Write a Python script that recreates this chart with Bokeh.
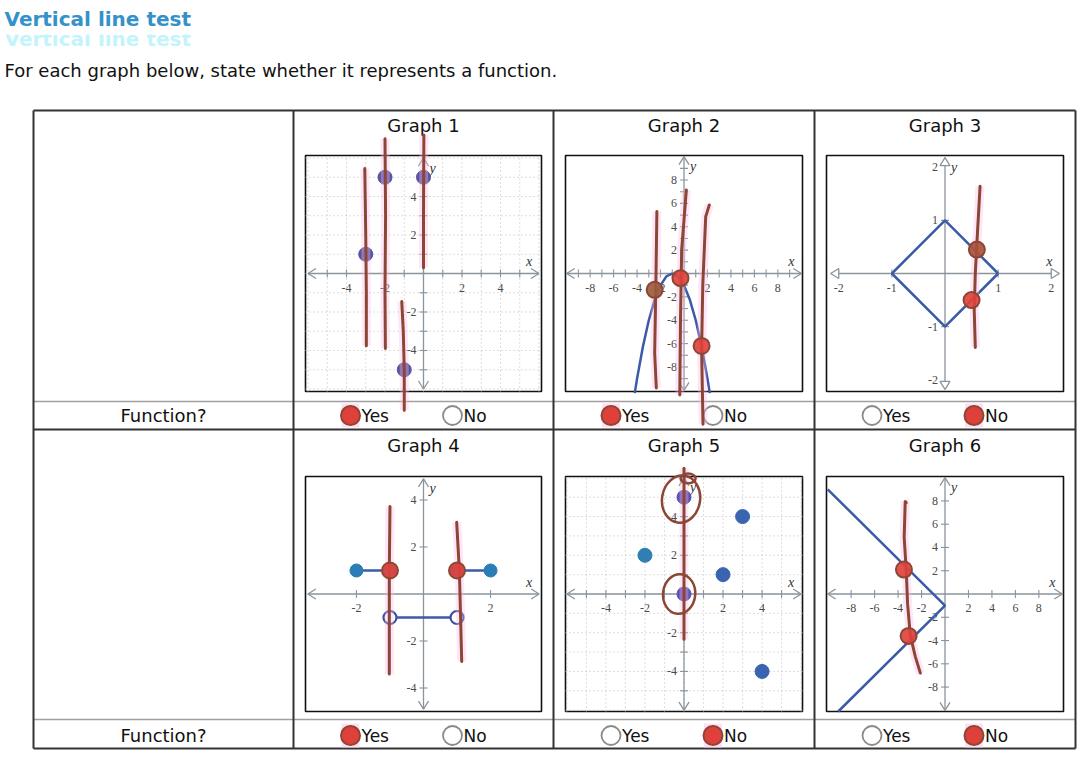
import numpy as np
from bokeh.plotting import figure
from bokeh.models import Range1d
from bokeh.core.properties import value
from bokeh.embed import file_html
from bokeh.resources import INLINE

# ---------------- texts ----------------
title = "Vertical line test"
subtitle = "For each graph below, state whether it represents a function."
graph_names = ["Graph 1", "Graph 2", "Graph 3", "Graph 4", "Graph 5", "Graph 6"]
row_label = "Function?"
choices = ["Yes", "No"]
answers = ["Yes", "Yes", "No", "Yes", "No", "No"]

# ---------------- graph data ----------------
# Graph 1: isolated points
g1_x = [-3, -2, 0, -1]
g1_y = [1, 5, 5, -5]
# Graph 2: downward parabola
g2_x = [-4.2, -4, -3.5, -3, -2.5, -2, -1.5, -1, -0.5, 0, 0.5, 1, 1.5, 2, 2.2]
g2_y = [-10.24, -9, -6.25, -4, -2.25, -1, -0.25, 0, -0.25, -1, -2.25, -4, -6.25, -9, -10.24]
# Graph 3: diamond
g3_x = [1, 0, -1, 0, 1]
g3_y = [0, 1, 0, -1, 0]
# Graph 4: step pieces
g4_seg_x = [[-2, -1], [-1, 1], [1, 2]]
g4_seg_y = [[1, 1], [-1, -1], [1, 1]]
g4_closed_x = [-2, 2, -1, 1]
g4_closed_y = [1, 1, 1, 1]
g4_open_x = [-1, 1]
g4_open_y = [-1, -1]
# Graph 5: points
g5_x = [0, 3, -2, 2, 0, 4]
g5_y = [5, 4, 2, 1, 0, -4]
g5_col = ["#5b4fae", "#3a64b0", "#2f7fb3", "#3a64b0", "#5b4fae", "#3a64b0"]
# Graph 6: sideways V
g6_x = [-10, 0, -9.1]
g6_y = [9, -1, -10.1]

# handwriting strokes (graph coordinates)
hw_strokes = {
    0: [([-3.05, -3.0, -2.97, -2.97], [5.45, 2, -1, -3.75]),
        ([-2.0, -1.97, -2.0, -1.98], [7.0, 3, -1, -3.9]),
        ([0.02, 0.0, 0.0], [7.2, 3, 0.3]),
        ([-1.13, -1.05, -1.0, -1.0], [-1.45, -3, -5, -7.1])],
    1: [([-2.31, -2.4, -2.5, -2.36], [5.3, -1, -6.8, -9.8]),
        ([0.2, -0.2, -0.3, -0.36], [7.15, 2, -4, -10.4]),
        ([2.16, 1.85, 1.6, 1.5, 1.62], [5.87, 4.87, -1, -6.5, -12.9])],
    2: [([0.66, 0.61, 0.57, 0.55, 0.57], [1.64, 0.75, 0, -0.69, -1.39])],
    3: [([-1.0, -1.02, -1.02], [3.72, 0.99, -3.4]),
        ([0.99, 1.07, 1.14], [3.05, 1, -2.87])],
    4: [([0.0, 0.0, 0.0], [6.5, 2, -2.34])],
    5: [([-3.3, -3.39, -3.48, -3.3, -3.19, -2.96, -2.53, -2.1],
         [7.85, 7.95, 4.87, 2.0, -0.83, -3.53, -5.38, -6.8])],
}
hw_blobs = {
    1: ([-2.5, -0.3, 1.5], [-1.4, -0.4, -6.2], ["#9a5a3c", "#e0403a", "#e0403a"]),
    2: ([0.6, 0.5], [0.45, -0.5], ["#a8503a", "#e0403a"]),
    3: ([-1, 1], [1, 1], ["#e0403a", "#e0403a"]),
    5: ([-3.5, -3.1], [2.1, -3.6], ["#e0403a", "#e0403a"]),
}
hw_ellipses = {
    4: ([-0.15, -0.25, 0.21], [4.9, 0.0, 5.97], [1.95, 1.65, 0.77], [2.45, 2.05, 0.5], [-0.15, -0.1, 0.0]),
}

# axis specs per graph
cfg = [
    dict(xr=6.13, yr=6.13, ax=6, ay=6, xt=list(range(-5, 6)), yt=list(range(-5, 6)),
         xl=[-4, -2, 2, 4], yl=[4, 2, -2, -4], grid=list(range(-6, 7)), tri=False),
    dict(xr=10.1, yr=10.1, ax=10, ay=10, xt=list(range(-9, 10)), yt=list(range(-9, 10)),
         xl=[-8, -6, -4, -2, 2, 4, 6, 8], yl=[8, 6, 4, 2, -2, -4, -6, -8], grid=None, tri=False),
    dict(xr=2.23, yr=2.22, ax=2.15, ay=2.18, xt=[-1, 1], yt=[-1, 1],
         xl=[-2, -1, 1, 2], yl=[2, 1, -1, -2], grid=None, tri=True),
    dict(xr=3.52, yr=5.0, ax=3.45, ay=4.9, xt=[-2, 2], yt=[-4, -2, 2, 4],
         xl=[-2, 2], yl=[4, 2, -2, -4], grid=None, tri=False),
    dict(xr=6.07, yr=6.07, ax=6, ay=6, xt=list(range(-5, 6)), yt=list(range(-5, 6)),
         xl=[-4, -2, 2, 4], yl=[4, 2, -2, -4], grid=list(range(-6, 7)), tri=False),
    dict(xr=10.1, yr=10.1, ax=10, ay=10, xt=[-8, -6, -4, -2, 2, 4, 6, 8], yt=[-8, -6, -4, -2, 2, 4, 6, 8],
         xl=[-8, -6, -4, -2, 2, 4, 6, 8], yl=[8, 6, 4, 2, -2, -4, -6, -8], grid=None, tri=False),
]

# ---------------- layout ----------------
W, H = 1085, 768
col_x = [33, 293, 553, 814, 1075]
row_top = [110, 429]
row_bot = 748
gray_y = [401, 719]
box_top = [155, 476]
box_bot = [391, 711]
gtitle_y = [125, 445]
radio_y = [415, 735]

FONT = value("DejaVu Sans")
SERIF = value("Liberation Serif")
AX_COL = "#8a949c"
LBL_COL = "#4a4a4a"
HW_COL = "#8c4636"
RED = "#e0403a"

p = figure(width=W, height=H, x_range=Range1d(0, W), y_range=Range1d(H, 0),
           output_backend="svg", toolbar_location=None, min_border=0,
           x_axis_location=None, y_axis_location=None)
p.grid.visible = False
p.outline_line_color = None
p.background_fill_color = "white"

# ---- title (with faint ghost below)
p.text(x=[4], y=[38], text=[title], text_font=FONT, text_font_style="bold",
       text_font_size="20px", text_color="#b4f2fa", text_baseline="middle", text_alpha=0.8)
p.quad(left=[0], right=[210], top=[26], bottom=[34], fill_color="white", line_color=None)
p.text(x=[4], y=[18], text=[title], text_font=FONT, text_font_style="bold",
       text_font_size="20px", text_color="#3592c9", text_baseline="middle")
p.text(x=[4], y=[70], text=[subtitle], text_font=FONT, text_font_size="18px",
       text_color="#111111", text_baseline="middle")

# ---- table
p.multi_line(xs=[[col_x[0], col_x[-1]], [col_x[0], col_x[-1]]], ys=[[g, g] for g in gray_y],
             line_color="#a0a0a0", line_width=1.3)
p.multi_line(xs=[[col_x[0], col_x[-1]]] * 3, ys=[[v, v] for v in row_top + [row_bot]],
             line_color="#333333", line_width=2)
p.multi_line(xs=[[c, c] for c in col_x], ys=[[row_top[0], row_bot]] * len(col_x),
             line_color="#333333", line_width=2)

p.text(x=[(col_x[0] + col_x[1]) / 2] * 2, y=radio_y, text=[row_label] * 2, text_font=FONT,
       text_font_size="18px", text_color="#111111", text_align="center", text_baseline="middle")

for i in range(6):
    r, c = divmod(i, 3)
    cc = (col_x[c + 1] + col_x[c + 2]) / 2
    p.text(x=[cc], y=[gtitle_y[r]], text=[graph_names[i]], text_font=FONT, text_font_size="18px",
           text_color="#111111", text_align="center", text_baseline="middle")
    xs_r = [cc - 73, cc + 29]
    for k, ch in enumerate(choices):
        if answers[i] == ch:
            p.quad(left=[xs_r[k] - 9], right=[xs_r[k] + 9], top=[radio_y[r] - 12], bottom=[radio_y[r] + 12],
                   fill_color="#ffd3ec", fill_alpha=0.7, line_color=None)
            p.scatter(x=[xs_r[k]], y=[radio_y[r]], size=19, marker="circle", fill_color=RED,
                      line_color=HW_COL, line_width=2)
        else:
            p.scatter(x=[xs_r[k]], y=[radio_y[r]], size=19, marker="circle", fill_color="white",
                      line_color="#8a8a8a", line_width=1.8)
        p.text(x=[xs_r[k] + 11], y=[radio_y[r]], text=[ch], text_font=FONT, text_font_size="17px",
               text_color="#111111", text_baseline="middle")

# ---- graphs
for i in range(6):
    r, c = divmod(i, 3)
    bx0, bx1 = col_x[c + 1] + 12, col_x[c + 2] - 12
    bt, bb = box_top[r], box_bot[r]
    p.quad(left=[bx0], right=[bx1], top=[bt], bottom=[bb], fill_color="white",
           line_color="#111111", line_width=1.6)
    s = cfg[i]
    xr, yr = s["xr"], s["yr"]
    g = p.subplot(x_source=Range1d(-xr, xr), y_source=Range1d(-yr, yr),
                  x_target=Range1d(bx0, bx1), y_target=Range1d(bb, bt))
    ux = (bx1 - bx0) / (2 * xr)
    uy = (bb - bt) / (2 * yr)
    if s["grid"] is not None:
        gv = s["grid"]
        g.multi_line(xs=[[v, v] for v in gv] + [[-xr, xr]] * len(gv),
                     ys=[[-yr, yr]] * len(gv) + [[v, v] for v in gv],
                     line_color="#bdbdbd", line_width=1, line_dash="1 3")
    ax, ay = s["ax"], s["ay"]
    g.multi_line(xs=[[-ax, ax], [0, 0]], ys=[[0, 0], [-ay, ay]], line_color=AX_COL, line_width=1.3)
    # ticks
    g.multi_line(xs=[[t, t] for t in s["xt"]], ys=[[-4 / uy, 4 / uy]] * len(s["xt"]),
                 line_color=AX_COL, line_width=1.1)
    g.multi_line(xs=[[-4 / ux, 4 / ux]] * len(s["yt"]), ys=[[t, t] for t in s["yt"]],
                 line_color=AX_COL, line_width=1.1)
    # arrowheads
    al, aw = 8, 5
    heads_x = [[ax - al / ux, ax, ax - al / ux], [-ax + al / ux, -ax, -ax + al / ux],
               [-aw / ux, 0, aw / ux], [-aw / ux, 0, aw / ux]]
    heads_y = [[aw / uy, 0, -aw / uy], [aw / uy, 0, -aw / uy],
               [ay - al / uy, ay, ay - al / uy], [-ay + al / uy, -ay, -ay + al / uy]]
    if s["tri"]:
        g.patches(xs=heads_x, ys=heads_y, fill_color="white", line_color=AX_COL, line_width=1.3)
    else:
        g.multi_line(xs=heads_x, ys=heads_y, line_color=AX_COL, line_width=1.3)
    # labels
    g.text(x=s["xl"], y=[0] * len(s["xl"]), text=[str(v) for v in s["xl"]], y_offset=14,
           text_font=SERIF, text_font_size="12px", text_color=LBL_COL, text_align="center",
           text_baseline="middle")
    g.text(x=[0] * len(s["yl"]), y=s["yl"], text=[str(v) for v in s["yl"]], x_offset=-7,
           text_font=SERIF, text_font_size="12px", text_color=LBL_COL, text_align="right",
           text_baseline="middle")
    g.text(x=[ax], y=[0], text=["x"], x_offset=-10, y_offset=-12, text_font=SERIF,
           text_font_style="italic", text_font_size="14px", text_color="#333333",
           text_align="center", text_baseline="middle")
    g.text(x=[0], y=[ay], text=["y"], x_offset=9, y_offset=10, text_font=SERIF,
           text_font_style="italic", text_font_size="14px", text_color="#333333",
           text_align="center", text_baseline="middle")

    # content
    if i == 0:
        g.scatter(x=g1_x, y=g1_y, size=14, fill_color="#56559f", line_color="#56559f")
    elif i == 1:
        g.line(x=g2_x, y=g2_y, line_color="#3b5aa8", line_width=2.5)
    elif i == 2:
        g.line(x=g3_x, y=g3_y, line_color="#3b5aa8", line_width=2.5)
    elif i == 3:
        g.multi_line(xs=g4_seg_x, ys=g4_seg_y, line_color="#3b5aa8", line_width=2.5)
        g.scatter(x=g4_closed_x, y=g4_closed_y, size=13, fill_color="#2a7db5", line_color="#2a7db5")
        g.scatter(x=g4_open_x, y=g4_open_y, size=13, fill_color="white", line_color="#3b4fa0",
                  line_width=2.2)
    elif i == 4:
        g.scatter(x=g5_x, y=g5_y, size=14, fill_color=g5_col, line_color=g5_col)
    elif i == 5:
        g.line(x=g6_x, y=g6_y, line_color="#3b5aa8", line_width=2.5)

    # handwriting
    for xs, ys in hw_strokes.get(i, []):
        g.line(x=xs, y=ys, line_color="#ffb8e6", line_width=9, line_alpha=0.35)
    for xs, ys in hw_strokes.get(i, []):
        g.line(x=xs, y=ys, line_color=HW_COL, line_width=3, line_cap="round", line_join="round")
    if i in hw_ellipses:
        ex, ey, ew, eh, ea = hw_ellipses[i]
        g.ellipse(x=ex, y=ey, width=ew, height=eh, angle=ea, fill_color=None,
                  line_color=HW_COL, line_width=2.5)
    if i in hw_blobs:
        bxs, bys, bcs = hw_blobs[i]
        g.scatter(x=bxs, y=bys, size=16, fill_color=bcs, line_color=HW_COL, line_width=2,
                  fill_alpha=0.9)

open("out.html", "w").write(file_html(p, INLINE))
